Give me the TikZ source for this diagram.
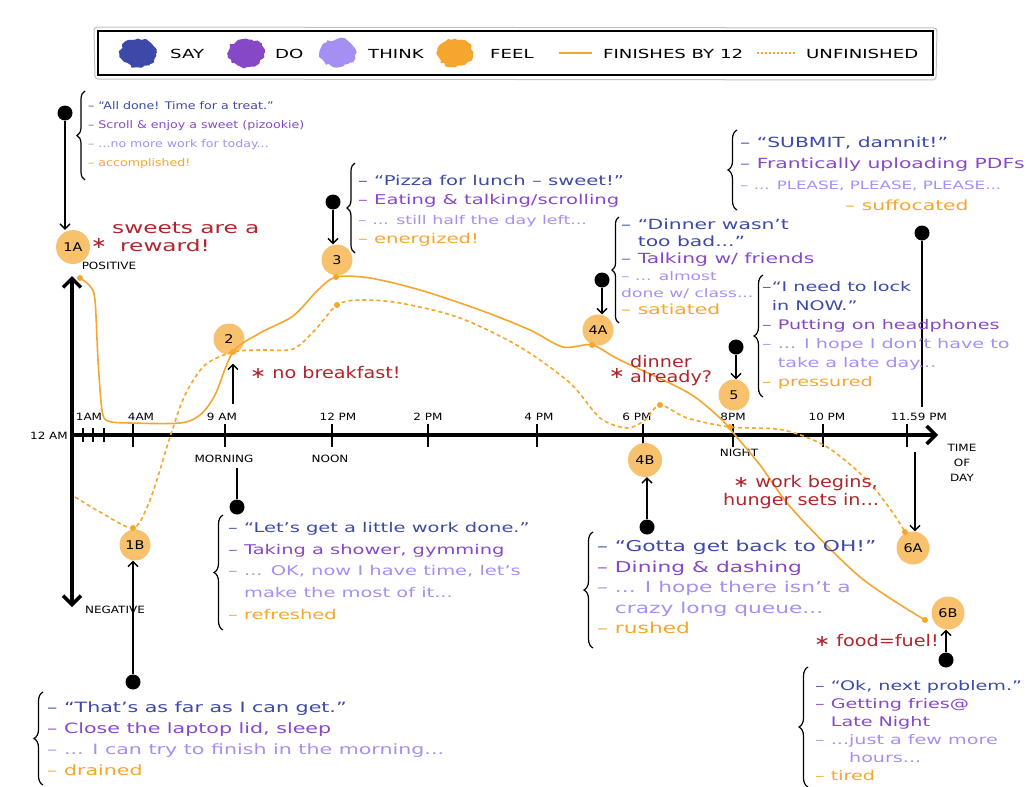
\documentclass[tikz,border=0pt]{standalone}
\usepackage{fontspec}
\setmainfont{DejaVu Sans}[FakeStretch=1.2]
\newfontfamily\hand{DejaVu Sans}[FakeStretch=1.45, Ligatures=TeX]
\usetikzlibrary{arrows.meta,decorations.pathreplacing,decorations.pathmorphing}
\definecolor{sayc}{HTML}{3D49A8}
\definecolor{doc}{HTML}{8748C8}
\definecolor{thinkc}{HTML}{A58FF2}
\definecolor{feelc}{HTML}{F5A62E}
\definecolor{notec}{HTML}{B0252C}

\begin{document}
\begin{tikzpicture}[x=1pt,y=-1pt]
	\tikzstyle{every node}+=[inner sep=0pt]
	\tikzstyle{stop}=[circle, fill=feelc!70, minimum size=31pt, font=\fontsize{12}{12}\selectfont]
	\tikzstyle{pinhead}=[circle, fill=black, minimum size=15pt]
	\tikzstyle{pin}=[black, line width=1.4pt, -{Straight Barb[length=5pt,width=10pt]}]
	\tikzstyle{lbl}=[font=\fontsize{10}{10}\selectfont]
	\tikzstyle{leg}=[anchor=west, font=\hand\fontsize{12.5}{13}\selectfont]
	\tikzstyle{axis}=[black, line width=3.5pt]
	\tikzstyle{tick}=[black, line width=2.2pt]
	\tikzstyle{finish}=[feelc, line width=1.6pt]
	\tikzstyle{unfinish}=[feelc, line width=1.6pt, dash pattern=on 4pt off 3pt]
	\tikzstyle{brc}=[black, line width=1.2pt, decorate, decoration={brace, amplitude=9pt}]
	\tikzstyle{note}=[anchor=north west, align=left]
	\tikzstyle{remark}=[notec, font=\fontsize{16}{18}\selectfont]
	\tikzstyle{blob}=[decorate, decoration={random steps, segment length=3pt, amplitude=1.5pt}]
	\useasboundingbox (0,0) rectangle (1028,787);
	% legend
	\draw[black!25, line width=1pt, rounded corners=3pt] (94,27) -- (937,28) -- (936,80) -- (95,79) -- cycle;
	\draw[black, line width=2pt] (98,31) rectangle (933,75);
	\fill[sayc, blob] (138,53) ellipse (18 and 14);
	\node[leg] (lsay) at (170,54) {SAY};
	\fill[doc, blob] (246,53) ellipse (18 and 14);
	\node[leg] (ldo) at (275,54) {DO};
	\fill[thinkc, blob] (338,53) ellipse (18 and 14);
	\node[leg] (lthink) at (368,54) {THINK};
	\fill[feelc, blob] (455,53) ellipse (18 and 14);
	\node[leg] (lfeel) at (490,54) {FEEL};
	\draw[finish] (559,53) -- (592,53);
	\node[leg] (lfin) at (603,54) {FINISHES BY 12};
	\draw[feelc, line width=1.6pt, dash pattern=on 2pt off 2pt] (757,53) -- (795,53);
	\node[leg] (lunf) at (806,54) {UNFINISHED};
	% axes
	\draw[axis, {Straight Barb[length=9pt,width=18pt]}-{Straight Barb[length=9pt,width=18pt]}] (72,607) -- (72,276);
	\draw[axis, -{Straight Barb[length=9pt,width=18pt]}] (72,435) -- (938,435);
	\foreach \x in {83,93,104} \draw[tick] (\x,428) -- (\x,442);
	\foreach \x in {133,225,332,428,537,643,733,823,907} \draw[tick] (\x,424) -- (\x,447);
	\node[lbl] (t12am) at (49,436) {12 AM};
	\node[lbl] (t1am) at (89,417) {1AM};
	\node[lbl] (t9am) at (222,417) {9 AM};
	\node[lbl] (t12pm) at (338,417) {12 PM};
	\node[lbl] (t2pm) at (428,417) {2 PM};
	\node[lbl] (t4pm) at (539,417) {4 PM};
	\node[lbl] (t6pm) at (637,417) {6 PM};
	\node[lbl] (t8pm) at (733,417) {8PM};
	\node[lbl] (t10pm) at (827,417) {10 PM};
	\node[lbl] (t1159) at (919,417) {11.59 PM};
	\node[lbl] (lmorning) at (224,459) {MORNING};
	\node[lbl] (lnoon) at (330,459) {NOON};
	\node[lbl] (lnight) at (739,453) {NIGHT};
	\node[lbl, align=center, font=\fontsize{10}{15}\selectfont] (ltime) at (962,463) {TIME\\OF\\DAY};
	\node[lbl] (lpos) at (109,266) {POSITIVE};
	\node[lbl] (lneg) at (115,610) {NEGATIVE};
	% stops
	\node[stop, minimum size=34pt] (n1A) at (73,247) {1A};
	\node[stop] (n1B) at (135,545) {1B};
	\node[stop] (n2) at (229,339) {2};
	\node[stop] (n3) at (337,260) {3};
	\node[stop] (n4A) at (598,330) {4A};
	\node[stop, minimum size=34pt] (n4B) at (645,460) {4B};
	\node[stop] (n5) at (734,395) {5};
	\node[stop, minimum size=33pt] (n6A) at (913,548) {6A};
	\node[stop, minimum size=33pt] (n6B) at (948,613) {6B};
	% curves
	\draw[finish] plot[smooth, tension=0.5] coordinates {(80,278) (90,286) (95,300) (98,360) (102,410) (108,421) (130,423) (180,423) (200,415) (215,395) (233,352) (260,333) (293,316) (318,290) (336,277) (370,278) (420,290) (480,310) (530,330) (563,347) (592,345) (620,360) (687,392) (720,418) (735,435) (760,465) (793,510) (860,577) (925,620)};
	\node[lbl, fill=white, inner sep=1pt] (t4am) at (141,417) {4AM};
	\draw[unfinish] plot[smooth, tension=0.5] coordinates {(75,497) (100,512) (133,528) (148,505) (160,470) (170,437) (185,395) (205,365) (233,352) (260,350) (293,349) (315,330) (337,305) (360,300) (400,303) (460,318) (520,347) (570,383) (600,418) (627,428) (645,420) (660,405) (687,418) (730,427) (783,430) (827,447) (867,480) (893,513) (905,532)};
	\foreach \p in {(80,278),(233,352),(336,277),(592,345),(925,620),(133,528),(337,305),(660,405),(730,427),(905,532)} \fill[feelc] \p circle (3);
	% pins
	\node[pinhead] (p1A) at (65,113) {};
	\draw[pin] (p1A) -- (p1A |- n1A.north);
	\node[pinhead] (p3) at (333,202) {};
	\draw[pin] (p3) -- (p3 |- n3.north);
	\node[pinhead] (p4A) at (602,280) {};
	\draw[pin] (p4A) -- (p4A |- n4A.north);
	\node[pinhead] (p5) at (736,347) {};
	\draw[pin] (p5) -- (p5 |- n5.north);
	\coordinate (c2) at (233,404);
	\draw[pin, shorten >=9pt] (c2) -- (c2 |- n2.south);
	\node[pinhead] (pM) at (237,507) {};
	\draw[black, line width=1.4pt, shorten >=5pt] (pM) -- (pM |- lmorning.south);
	\node[pinhead] (p1B) at (133,682) {};
	\draw[pin] (p1B) -- (p1B |- n1B.south);
	\node[pinhead] (p4B) at (647,527) {};
	\draw[pin] (p4B) -- (p4B |- n4B.south);
	\node[pinhead] (p6A) at (922,233) {};
	\draw[black, line width=1.4pt, shorten >=6pt] (p6A) -- (p6A |- t1159.north);
	\coordinate (c6A) at (915,452);
	\draw[pin] (c6A) -- (c6A |- n6A.north);
	\node[pinhead] (p6B) at (946,660) {};
	\draw[pin] (p6B) -- (p6B |- n6B.south);
	% braces
	\draw[brc, decoration={amplitude=8pt}] (85,180) -- (85,91);
	\draw[brc, decoration={amplitude=8pt}] (355,253) -- (355,163);
	\draw[brc, decoration={amplitude=7pt}] (619,323) -- (619,217);
	\draw[brc] (737,210) -- (737,130);
	\draw[brc] (763,397) -- (763,275);
	\draw[brc] (223,630) -- (223,515);
	\draw[brc] (593,648) -- (593,532);
	\draw[brc] (43,785) -- (43,692);
	\draw[brc] (808,787) -- (808,667);
	% notes
	\node[note, font=\fontsize{10.5}{19}\selectfont] (b1A) at (88,101) {\textcolor{sayc}{-- ``All done! Time for a treat.''}\\\textcolor{doc}{-- Scroll \& enjoy a sweet (pizookie)}\\\textcolor{thinkc}{-- ...no more work for today...}\\\textcolor{feelc}{-- accomplished!}};
	\node[note, font=\hand\fontsize{13.5}{19.3}\selectfont] (b3) at (358,175) {\textcolor{sayc}{-- ``Pizza for lunch -- sweet!''}\\\textcolor{doc}{-- Eating \& talking/scrolling}\\\textcolor{thinkc}{\fontsize{12}{19.3}\selectfont -- ... still half the day left...}\\\textcolor{feelc}{-- energized!}};
	\node[note, font=\hand\fontsize{14}{17}\selectfont] (b4A) at (621,219) {\textcolor{sayc}{-- ``Dinner wasn't}\\\textcolor{sayc}{\phantom{-- }too bad...''}\\\textcolor{doc}{-- Talking w/ friends}\\\textcolor{thinkc}{\fontsize{11.8}{17}\selectfont -- ... almost}\\\textcolor{thinkc}{\fontsize{11.8}{17}\selectfont done w/ class...}\\\textcolor{feelc}{-- satiated}};
	\node[note, font=\hand\fontsize{14}{21}\selectfont] (b6A) at (740,137) {\textcolor{sayc}{-- ``SUBMIT, damnit!''}\\\textcolor{doc}{-- Frantically uploading PDFs}\\\textcolor{thinkc}{\fontsize{11.5}{21}\selectfont -- ... PLEASE, PLEASE, PLEASE...}\\\textcolor{feelc}{\hspace{105pt}-- suffocated}};
	\node[note, font=\hand\fontsize{13.2}{19}\selectfont] (b5) at (762,281) {\textcolor{sayc}{--``I need to lock}\\\textcolor{sayc}{\phantom{--}in NOW.''}\\\textcolor{doc}{-- Putting on headphones}\\\textcolor{thinkc}{-- ... I hope I don't have to}\\\textcolor{thinkc}{\phantom{-- }take a late day...}\\\textcolor{feelc}{-- pressured}};
	\node[note, font=\hand\fontsize{13.4}{21.7}\selectfont] (bMorning) at (228,522) {\textcolor{sayc}{-- ``Let's get a little work done.''}\\\textcolor{doc}{-- Taking a shower, gymming}\\\textcolor{thinkc}{-- ... OK, now I have time, let's}\\\textcolor{thinkc}{\phantom{-- }make the most of it...}\\\textcolor{feelc}{-- refreshed}};
	\node[note, font=\hand\fontsize{15}{20.5}\selectfont] (b4B) at (597,540) {\textcolor{sayc}{-- ``Gotta get back to OH!''}\\\textcolor{doc}{-- Dining \& dashing}\\\textcolor{thinkc}{-- ... I hope there isn't a}\\\textcolor{thinkc}{\phantom{-- }crazy long queue...}\\\textcolor{feelc}{-- rushed}};
	\node[note, font=\hand\fontsize{14.2}{20.7}\selectfont] (b1B) at (47,702) {\textcolor{sayc}{-- ``That's as far as I can get.''}\\\textcolor{doc}{-- Close the laptop lid, sleep}\\\textcolor{thinkc}{-- ... I can try to finish in the morning...}\\\textcolor{feelc}{-- drained}};
	\node[note, font=\hand\fontsize{13.2}{18}\selectfont] (b6B) at (815,680) {\textcolor{sayc}{-- ``Ok, next problem.''}\\\textcolor{doc}{-- Getting fries@}\\\textcolor{doc}{\phantom{-- }Late Night}\\\textcolor{thinkc}{-- ...just a few more}\\\textcolor{thinkc}{\phantom{-- ...}hours...}\\\textcolor{feelc}{-- tired}};
	% remarks
	\node[remark] (s1A) at (99,243) {∗};
	\node[remark, note, font=\hand\fontsize{16}{18}\selectfont] (r1A) at (112,222) {sweets are a\\\hspace{8pt}reward!};
	\node[remark, anchor=west] (r2) at (250,373) {∗ no breakfast!};
	\node[remark] (s4A) at (617,373) {∗};
	\node[remark, note, font=\fontsize{16}{15}\selectfont] (r4A) at (630,355) {dinner\\already?};
	\node[remark, note] (r5) at (723,475) {\hspace{10pt}∗ work begins,\\hunger sets in...};
	\node[remark, anchor=west] (r6B) at (814,641) {∗ food=fuel!};
\end{tikzpicture}
\end{document}
